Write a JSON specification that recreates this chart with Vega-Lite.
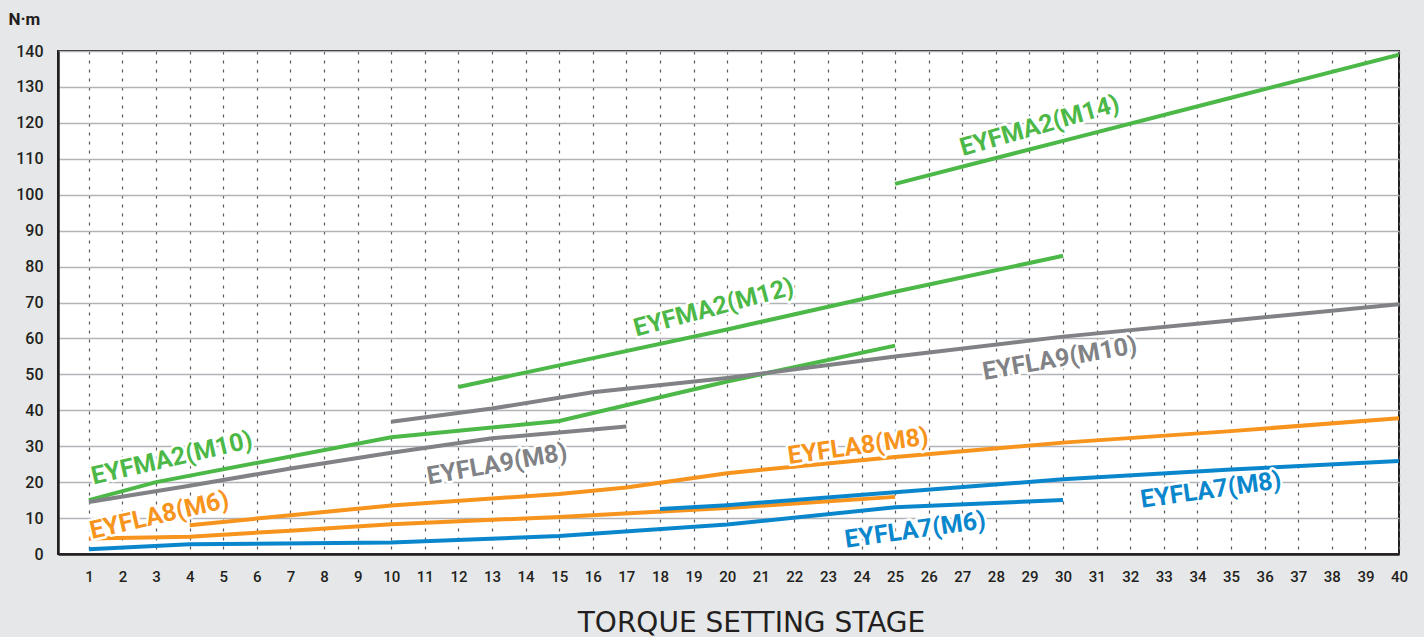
{
  "$schema": "https://vega.github.io/schema/vega-lite/v6.json",
  "width": 1341,
  "height": 503,
  "autosize": {"type": "none"},
  "padding": {"left": 58, "top": 51, "right": 25, "bottom": 83},
  "background": "#e6e7e8",
  "config": {
    "view": {"fill": "white", "stroke": "#231f20", "strokeWidth": 2},
    "font": "Roboto"
  },
  "datasets": {
    "lines": [
      {"s": "EYFMA2(M14)", "f": "EYFMA2", "x": 25, "y": 103},
      {"s": "EYFMA2(M14)", "f": "EYFMA2", "x": 30, "y": 115},
      {"s": "EYFMA2(M14)", "f": "EYFMA2", "x": 35, "y": 127},
      {"s": "EYFMA2(M14)", "f": "EYFMA2", "x": 40, "y": 139},
      {"s": "EYFMA2(M12)", "f": "EYFMA2", "x": 12, "y": 46.5},
      {"s": "EYFMA2(M12)", "f": "EYFMA2", "x": 15, "y": 52.5},
      {"s": "EYFMA2(M12)", "f": "EYFMA2", "x": 20, "y": 62.5},
      {"s": "EYFMA2(M12)", "f": "EYFMA2", "x": 25, "y": 73},
      {"s": "EYFMA2(M12)", "f": "EYFMA2", "x": 30, "y": 83},
      {"s": "EYFMA2(M10)", "f": "EYFMA2", "x": 1, "y": 15},
      {"s": "EYFMA2(M10)", "f": "EYFMA2", "x": 3, "y": 20},
      {"s": "EYFMA2(M10)", "f": "EYFMA2", "x": 10, "y": 32.5},
      {"s": "EYFMA2(M10)", "f": "EYFMA2", "x": 15, "y": 37},
      {"s": "EYFMA2(M10)", "f": "EYFMA2", "x": 20, "y": 48},
      {"s": "EYFMA2(M10)", "f": "EYFMA2", "x": 25, "y": 58},
      {"s": "EYFLA9(M10)", "f": "EYFLA9", "x": 10, "y": 36.8},
      {"s": "EYFLA9(M10)", "f": "EYFLA9", "x": 13, "y": 40.5},
      {"s": "EYFLA9(M10)", "f": "EYFLA9", "x": 16, "y": 45},
      {"s": "EYFLA9(M10)", "f": "EYFLA9", "x": 20, "y": 49},
      {"s": "EYFLA9(M10)", "f": "EYFLA9", "x": 25, "y": 55},
      {"s": "EYFLA9(M10)", "f": "EYFLA9", "x": 30, "y": 60.5},
      {"s": "EYFLA9(M10)", "f": "EYFLA9", "x": 35, "y": 65},
      {"s": "EYFLA9(M10)", "f": "EYFLA9", "x": 40, "y": 69.5},
      {"s": "EYFLA9(M8)", "f": "EYFLA9", "x": 1, "y": 14.5},
      {"s": "EYFLA9(M8)", "f": "EYFLA9", "x": 4, "y": 19},
      {"s": "EYFLA9(M8)", "f": "EYFLA9", "x": 7, "y": 23.8},
      {"s": "EYFLA9(M8)", "f": "EYFLA9", "x": 10, "y": 28.2},
      {"s": "EYFLA9(M8)", "f": "EYFLA9", "x": 13, "y": 32.2},
      {"s": "EYFLA9(M8)", "f": "EYFLA9", "x": 15, "y": 33.8},
      {"s": "EYFLA9(M8)", "f": "EYFLA9", "x": 17, "y": 35.5},
      {"s": "EYFLA8(M8)", "f": "EYFLA8", "x": 4, "y": 8},
      {"s": "EYFLA8(M8)", "f": "EYFLA8", "x": 7, "y": 10.8},
      {"s": "EYFLA8(M8)", "f": "EYFLA8", "x": 10, "y": 13.5},
      {"s": "EYFLA8(M8)", "f": "EYFLA8", "x": 15, "y": 16.7},
      {"s": "EYFLA8(M8)", "f": "EYFLA8", "x": 17, "y": 18.5},
      {"s": "EYFLA8(M8)", "f": "EYFLA8", "x": 20, "y": 22.5},
      {"s": "EYFLA8(M8)", "f": "EYFLA8", "x": 25, "y": 27},
      {"s": "EYFLA8(M8)", "f": "EYFLA8", "x": 30, "y": 31},
      {"s": "EYFLA8(M8)", "f": "EYFLA8", "x": 35, "y": 34.2},
      {"s": "EYFLA8(M8)", "f": "EYFLA8", "x": 40, "y": 37.8},
      {"s": "EYFLA8(M6)", "f": "EYFLA8", "x": 1, "y": 4.3},
      {"s": "EYFLA8(M6)", "f": "EYFLA8", "x": 4, "y": 4.8},
      {"s": "EYFLA8(M6)", "f": "EYFLA8", "x": 7, "y": 6.5},
      {"s": "EYFLA8(M6)", "f": "EYFLA8", "x": 10, "y": 8.3},
      {"s": "EYFLA8(M6)", "f": "EYFLA8", "x": 15, "y": 10.3},
      {"s": "EYFLA8(M6)", "f": "EYFLA8", "x": 20, "y": 12.8},
      {"s": "EYFLA8(M6)", "f": "EYFLA8", "x": 25, "y": 15.9},
      {"s": "EYFLA7(M8)", "f": "EYFLA7", "x": 18, "y": 12.5},
      {"s": "EYFLA7(M8)", "f": "EYFLA7", "x": 20, "y": 13.6},
      {"s": "EYFLA7(M8)", "f": "EYFLA7", "x": 25, "y": 17.2},
      {"s": "EYFLA7(M8)", "f": "EYFLA7", "x": 30, "y": 20.8},
      {"s": "EYFLA7(M8)", "f": "EYFLA7", "x": 35, "y": 23.5},
      {"s": "EYFLA7(M8)", "f": "EYFLA7", "x": 40, "y": 25.9},
      {"s": "EYFLA7(M6)", "f": "EYFLA7", "x": 1, "y": 1.3},
      {"s": "EYFLA7(M6)", "f": "EYFLA7", "x": 4, "y": 2.7},
      {"s": "EYFLA7(M6)", "f": "EYFLA7", "x": 10, "y": 3.2},
      {"s": "EYFLA7(M6)", "f": "EYFLA7", "x": 15, "y": 5},
      {"s": "EYFLA7(M6)", "f": "EYFLA7", "x": 20, "y": 8.2},
      {"s": "EYFLA7(M6)", "f": "EYFLA7", "x": 25, "y": 13},
      {"s": "EYFLA7(M6)", "f": "EYFLA7", "x": 30, "y": 15}
    ],
    "labels": [
      {"s": "EYFMA2(M14)", "f": "EYFMA2", "x": 29.3, "y": 119.2, "a": -16},
      {"s": "EYFMA2(M12)", "f": "EYFMA2", "x": 19.6, "y": 68.6, "a": -15},
      {"s": "EYFLA9(M10)", "f": "EYFLA9", "x": 29.9, "y": 54.4, "a": -10},
      {"s": "EYFMA2(M10)", "f": "EYFMA2", "x": 3.47, "y": 26.7, "a": -13},
      {"s": "EYFLA9(M8)", "f": "EYFLA9", "x": 13.15, "y": 25, "a": -10},
      {"s": "EYFLA8(M8)", "f": "EYFLA8", "x": 23.9, "y": 30, "a": -8},
      {"s": "EYFLA8(M6)", "f": "EYFLA8", "x": 3.1, "y": 10.8, "a": -13},
      {"s": "EYFLA7(M6)", "f": "EYFLA7", "x": 25.6, "y": 6.7, "a": -8},
      {"s": "EYFLA7(M8)", "f": "EYFLA7", "x": 34.4, "y": 17.8, "a": -8}
    ]
  },
  "encoding": {
    "x": {
      "field": "x", "type": "quantitative",
      "scale": {"domain": [0.08, 40], "nice": false, "zero": false},
      "axis": {
        "values": [1,2,3,4,5,6,7,8,9,10,11,12,13,14,15,16,17,18,19,20,21,22,23,24,25,26,27,28,29,30,31,32,33,34,35,36,37,38,39,40],
        "ticks": false,
        "labelOverlap": false,
        "labelPadding": 15,
        "labelFontSize": 15,
        "labelFontWeight": 500,
        "labelColor": "#231f20",
        "labelFlush": false,
        "domainColor": "#231f20",
        "domainWidth": 2.5,
        "grid": true,
        "gridColor": "#58595b",
        "gridDash": [3, 6],
        "gridWidth": 1.2,
        "title": "TORQUE SETTING STAGE",
        "titleFont": "DejaVu Sans",
        "titleFontSize": 28,
        "titleFontWeight": "normal",
        "titleColor": "#231f20",
        "titleX": 693,
        "titleY": 77,
        "titleAlign": "center",
        "titleBaseline": "alphabetic"
      }
    },
    "y": {
      "field": "y", "type": "quantitative",
      "scale": {"domain": [0, 140], "nice": false},
      "axis": {
        "values": [0,10,20,30,40,50,60,70,80,90,100,110,120,130,140],
        "ticks": false,
        "labelOverlap": false,
        "labelPadding": 15,
        "labelFontSize": 16,
        "labelFontWeight": 500,
        "labelColor": "#231f20",
        "labelFlush": false,
        "domainColor": "#231f20",
        "domainWidth": 2.5,
        "grid": true,
        "gridColor": "#b1b3b6",
        "gridWidth": 1.5,
        "title": "N·m",
        "titleAngle": 0,
        "titleX": -50,
        "titleY": -27,
        "titleAlign": "left",
        "titleBaseline": "alphabetic",
        "titleFontSize": 17,
        "titleFontWeight": "bold",
        "titleColor": "#231f20"
      }
    }
  },
  "layer": [
    {
      "data": {"name": "lines"},
      "mark": {"type": "line", "strokeWidth": 4, "clip": true},
      "encoding": {
        "color": {
          "field": "f", "type": "nominal",
          "scale": {"domain": ["EYFMA2", "EYFLA9", "EYFLA8", "EYFLA7"], "range": ["#4cb848", "#808285", "#f7941d", "#0a87cc"]},
          "legend": null
        },
        "detail": {"field": "s"}
      }
    },
    {
      "data": {"name": "labels"},
      "mark": {"type": "text", "fontSize": 25, "fontWeight": "bold", "stroke": "white", "strokeWidth": 5, "strokeJoin": "round", "fill": "white"},
      "encoding": {
        "text": {"field": "s"},
        "angle": {"field": "a", "type": "quantitative", "scale": null}
      }
    },
    {
      "data": {"name": "labels"},
      "mark": {"type": "text", "fontSize": 25, "fontWeight": "bold"},
      "encoding": {
        "text": {"field": "s"},
        "angle": {"field": "a", "type": "quantitative", "scale": null},
        "color": {"field": "f", "type": "nominal", "legend": null}
      }
    }
  ]
}
